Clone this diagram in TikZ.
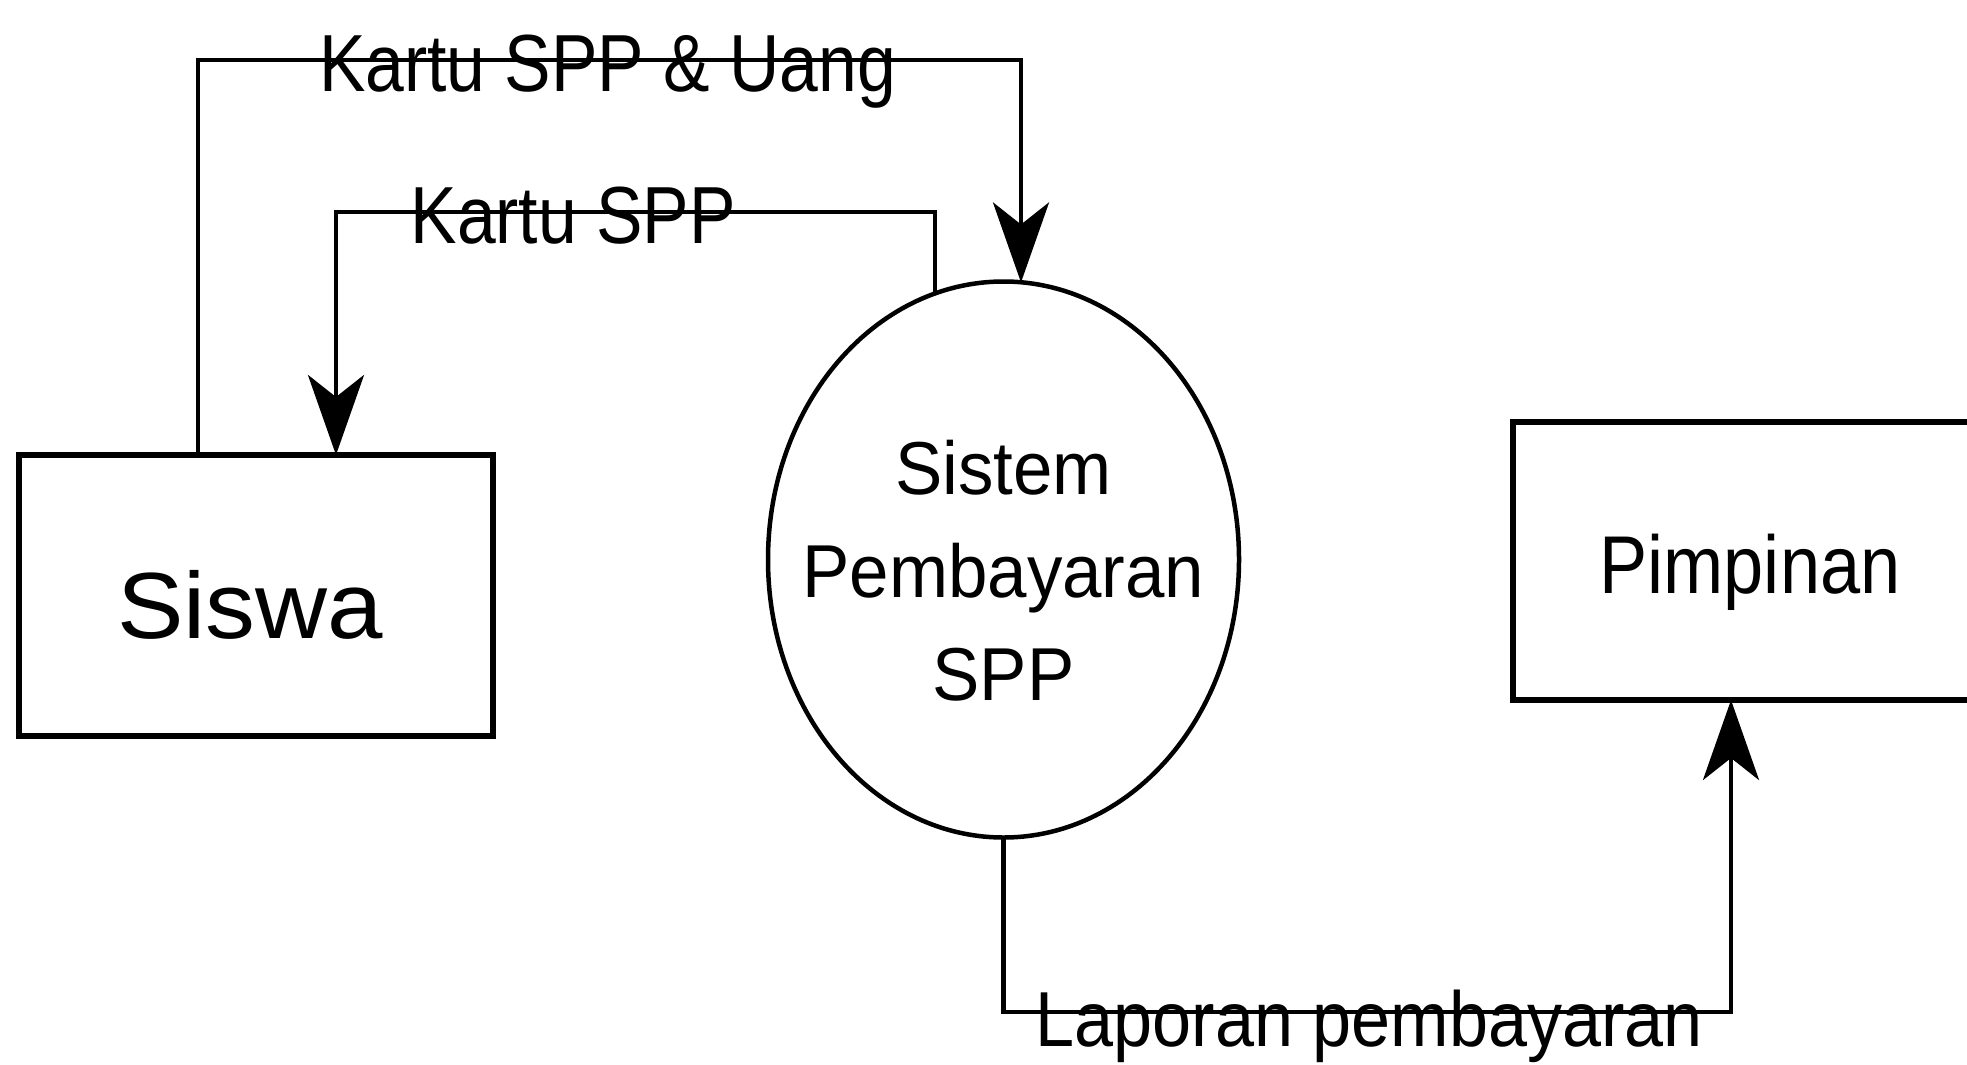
\documentclass[tikz,border=0pt]{standalone}
\usepackage{fontspec}
\setmainfont{Liberation Sans}
\usepackage{graphicx}
\usetikzlibrary{arrows.meta,shapes.geometric}

\tikzset{
  entity/.style={draw, line width=5.5pt, rectangle, inner sep=0pt, outer sep=0pt},
  process/.style={draw, line width=4.5pt, ellipse, inner sep=0pt, outer sep=0pt},
  processtext/.style={align=center, inner sep=0pt, font=\fontsize{75}{103}\selectfont},
  flow/.style={line width=4.5pt, -{Stealth[length=80pt, width=56pt, inset=22pt]}},
  flowlabel/.style={anchor=base, inner sep=0pt, font=\fontsize{81}{90}\selectfont},
}

\begin{document}
\begin{tikzpicture}[x=1pt, y=-1pt]
\useasboundingbox (0,0) rectangle (1967,1065);
\fill[white] (0,0) rectangle (1967,1065);
\clip (0,0) rectangle (1967,1065);

% external entities and the process
\node[entity, minimum width=474pt, minimum height=281pt, text height=85pt, text depth=0pt,
  font=\fontsize{94}{100}\selectfont] (siswa) at (256,595.5)
  {\scalebox{1.06}[1]{Siswa}\hspace*{12pt}};
\node[process, minimum width=471pt, minimum height=556pt,
  label={[name=systext, processtext, yshift=-11pt]center:%
    {\scalebox{0.945}[1]{Sistem}\\\scalebox{0.945}[1]{Pembayaran}\\\scalebox{0.945}[1]{SPP}}}]
  (sys) at (1003.5,559.5) {};
\node[entity, minimum width=474pt, minimum height=278pt, text height=64pt, text depth=0pt,
  font=\fontsize{82}{90}\selectfont] (pim) at (1750,561)
  {\scalebox{0.88}[1]{Pimpinan}};

% bend points of the data flows
\coordinate (b1) at (198,60);
\coordinate (b2) at (1021,60);
\coordinate (c1) at (935,212);
\coordinate (c2) at (336,212);
\coordinate (d1) at (1003.5,1012);
\coordinate (d2) at (1731,1012);

% data flows
\draw[flow] (b1 |- siswa.north) -- (b1)
  -- node[flowlabel, pos=0.4976, yshift=-32pt] {\scalebox{0.86}[1]{Kartu SPP \& Uang}} (b2)
  -- (b2 |- sys.86.4);
\draw[flow] (c1 |- sys.104.4) -- (c1)
  -- node[flowlabel, pos=0.604, yshift=-31pt] {\scalebox{0.86}[1]{Kartu SPP}} (c2)
  -- (c2 |- siswa.north);
\draw[flow] (sys.south) -- (d1)
  -- node[flowlabel, pos=0.503, yshift=-34pt, font=\fontsize{78}{90}\selectfont]
     {\scalebox{0.9}[1]{Laporan pembayaran}} (d2)
  -- (d2 |- pim.south);
\end{tikzpicture}
\end{document}
